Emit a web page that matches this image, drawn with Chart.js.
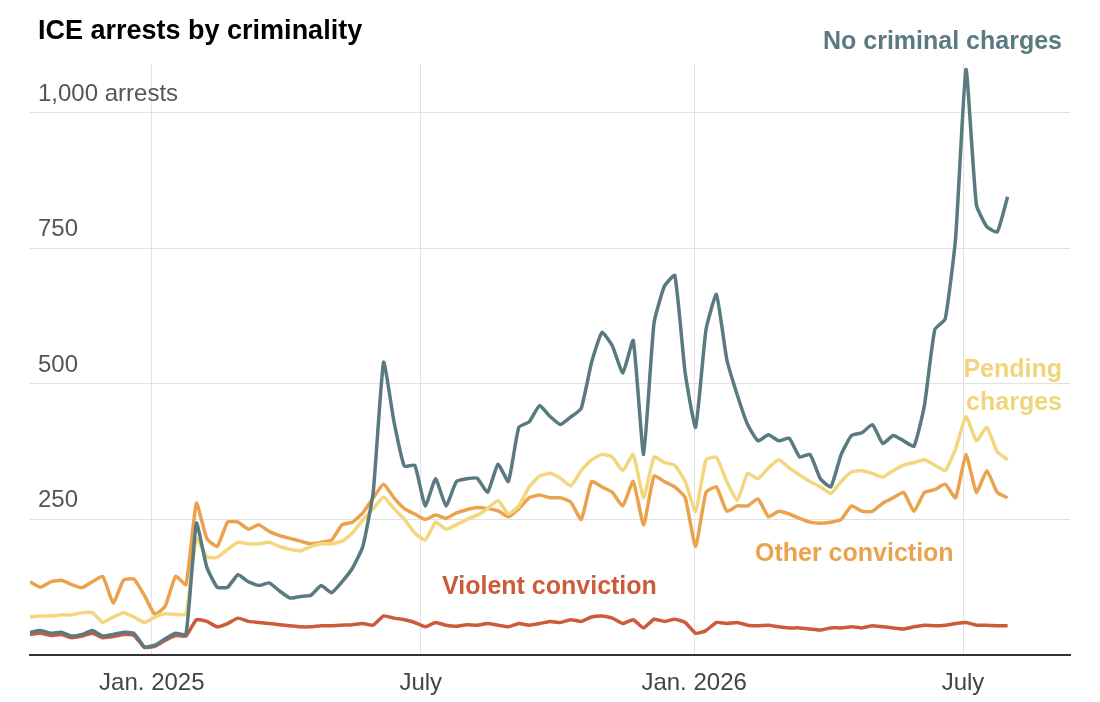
<!DOCTYPE html>
<html>
<head>
<meta charset="utf-8">
<script src="https://cdn.jsdelivr.net/npm/chart.js@4"></script>
<style>
  html, body { margin: 0; padding: 0; background: #fff; }
  #wrap { width: 1100px; height: 702px; position: relative; }
</style>
</head>
<body>
<div id="wrap"><canvas id="chart"></canvas></div>
<script>
// days since Jan. 1, 2025, one point a week
const days = Array.from({ length: 95 }, (_, i) => -82 + 7 * i);

const noCriminal = [42, 45, 40, 42, 35, 38, 45, 35, 38, 42, 40, 15, 18, 30, 40, 38,
  243, 162, 125, 125, 148, 135, 128, 133, 118, 105, 108, 110, 128, 115, 135, 160,
  200, 300, 540, 430, 348, 350, 275, 325, 275, 320, 325, 326, 300, 352, 320, 420,
  430, 460, 440, 425, 439, 455, 540, 595, 570, 520, 580, 370, 612, 680, 700, 520,
  420, 600, 665, 545, 480, 425, 395, 406, 395, 400, 365, 370, 325, 310, 370, 405,
  410, 425, 390, 405, 395, 385, 460, 600, 620, 769, 1080, 830, 790, 780, 845];

const pending = [70, 72, 72, 74, 74, 78, 78, 60, 70, 78, 70, 60, 70, 76, 75, 75,
  215, 181, 180, 195, 208, 205, 205, 208, 200, 195, 192, 200, 205, 205, 210, 225,
  249, 270, 291, 270, 250, 225, 212, 245, 232, 240, 250, 258, 270, 285, 260, 275,
  310, 330, 335, 326, 312, 340, 360, 370, 365, 340, 370, 290, 365, 355, 350, 320,
  265, 360, 365, 320, 285, 335, 325, 345, 360, 345, 332, 320, 310, 298, 320, 338,
  340, 335, 328, 340, 350, 355, 360, 350, 340, 380, 440, 395, 420, 375, 360];

const otherConviction = [135, 125, 135, 138, 130, 124, 135, 145, 96, 138, 140, 110, 75, 90, 145, 130,
  280, 215, 200, 245, 245, 232, 240, 228, 220, 215, 210, 205, 208, 212, 240, 245,
  262, 290, 315, 290, 270, 260, 250, 258, 252, 262, 268, 272, 270, 266, 255, 270,
  290, 295, 290, 290, 282, 250, 320, 310, 300, 275, 320, 240, 330, 320, 310, 290,
  200, 300, 310, 265, 275, 275, 288, 255, 265, 260, 252, 245, 243, 245, 250, 275,
  265, 265, 280, 290, 300, 265, 300, 305, 315, 290, 370, 300, 340, 300, 290];

const violent = [38, 40, 36, 38, 32, 35, 40, 32, 34, 38, 36, 14, 16, 27, 36, 35,
  65, 62, 52, 58, 68, 62, 60, 58, 56, 54, 52, 52, 54, 54, 55, 56,
  58, 55, 72, 68, 65, 60, 52, 60, 55, 53, 56, 55, 58, 55, 52, 58,
  55, 58, 62, 60, 65, 62, 70, 72, 68, 58, 65, 50, 66, 62, 66, 60,
  40, 45, 60, 58, 60, 55, 54, 55, 52, 50, 50, 48, 46, 50, 50, 52,
  50, 54, 52, 50, 48, 52, 55, 54, 55, 58, 60, 55, 55, 54, 54];

const xTickDays = [0, 181, 365, 546];
const xTickLabels = ['Jan. 2025', 'July', 'Jan. 2026', 'July'];
const yTickValues = [250, 500, 750, 1000];
const yTickLabels = ['250', '500', '750', '1,000 arrests'];

const COLORS = {
  noCriminal: '#5a7a81',
  pending: '#f3d77f',
  other: '#eba24d',
  violent: '#cd5a3b'
};

const pts = vals => vals.map((v, i) => ({ x: days[i], y: v }));
const LABEL_FONT = 'bold 25px "Liberation Sans", Arial, sans-serif';

const textPlugin = {
  id: 'texts',
  afterDraw(chart) {
    const ctx = chart.ctx;
    const x = chart.scales.x, y = chart.scales.y;
    ctx.save();
    ctx.textBaseline = 'alphabetic';

    ctx.fillStyle = '#000';
    ctx.font = 'bold 27px "Liberation Sans", Arial, sans-serif';
    ctx.textAlign = 'left';
    ctx.fillText('ICE arrests by criminality', 38, 39);

    ctx.fillStyle = '#555';
    ctx.font = '24px "Liberation Sans", sans-serif';
    yTickValues.forEach((v, i) => ctx.fillText(yTickLabels[i], 38, y.getPixelForValue(v) - 12));

    ctx.textAlign = 'center';
    ctx.fillStyle = '#444';
    xTickDays.forEach((d, i) => ctx.fillText(xTickLabels[i], x.getPixelForValue(d), 690));

    ctx.font = LABEL_FONT;
    ctx.textAlign = 'right';
    ctx.fillStyle = COLORS.noCriminal;
    ctx.fillText('No criminal charges', 1062, 49);
    ctx.fillStyle = '#f0d57a';
    ctx.fillText('Pending', 1062, 377);
    ctx.fillText('charges', 1062, 410);
    ctx.textAlign = 'left';
    ctx.fillStyle = COLORS.other;
    ctx.fillText('Other conviction', 755, 561);
    ctx.fillStyle = COLORS.violent;
    ctx.fillText('Violent conviction', 442, 594);
    ctx.restore();
  }
};

const line = (data, color, order) => ({
  data: pts(data),
  borderColor: color,
  borderWidth: 3.5,
  pointRadius: 0,
  tension: 0.15,
  order
});

new Chart(document.getElementById('chart'), {
  type: 'line',
  data: {
    datasets: [
      line(noCriminal, COLORS.noCriminal, 0),
      line(pending, COLORS.pending, 1),
      line(otherConviction, COLORS.other, 2),
      line(violent, COLORS.violent, 3)
    ]
  },
  options: {
    responsive: true,
    maintainAspectRatio: false,
    animation: false,
    layout: { padding: { left: 30, right: 30, top: 64, bottom: 47 } },
    plugins: { legend: { display: false }, tooltip: { enabled: false } },
    scales: {
      x: {
        type: 'linear',
        min: -82,
        max: 618,
        afterBuildTicks: s => { s.ticks = xTickDays.map(v => ({ value: v })); },
        ticks: { display: false },
        grid: { color: '#e2e2e2', lineWidth: 1, drawTicks: false },
        border: { color: '#333', width: 2 }
      },
      y: {
        min: 0,
        max: 1090,
        afterBuildTicks: s => { s.ticks = yTickValues.map(v => ({ value: v })); },
        ticks: { display: false },
        grid: { color: '#e2e2e2', lineWidth: 1, drawTicks: false },
        border: { display: false }
      }
    }
  },
  plugins: [textPlugin]
});
</script>
</body>
</html>
